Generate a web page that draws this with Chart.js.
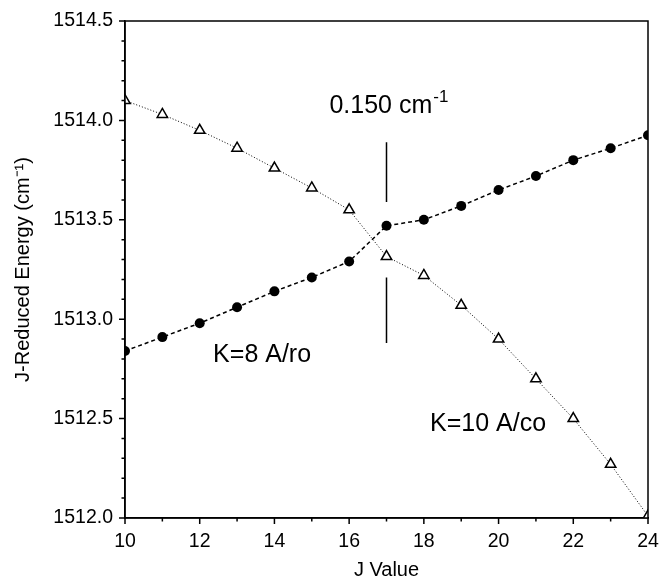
<!DOCTYPE html>
<html>
<head>
<meta charset="utf-8">
<script src="https://cdn.jsdelivr.net/npm/chart.js@4/dist/chart.umd.min.js"></script>
<style>
  html, body { margin: 0; padding: 0; background: #fff; }
  #wrap { width: 659px; height: 577px; }
</style>
</head>
<body>
<div id="wrap"><canvas id="grafico"></canvas></div>
<script>
// valores
const valoresJ = [10, 11, 12, 13, 14, 15, 16, 17, 18, 19, 20, 21, 22, 23, 24];
const energiaK8 = [1512.84, 1512.91, 1512.98, 1513.06, 1513.14, 1513.21, 1513.29, 1513.47,
                   1513.50, 1513.57, 1513.65, 1513.72, 1513.80, 1513.86, 1513.925];
const energiaK10 = [1514.10, 1514.03, 1513.95, 1513.86, 1513.76, 1513.66, 1513.55, 1513.315,
                    1513.22, 1513.07, 1512.90, 1512.70, 1512.50, 1512.27, 1512.01];

// anotações (J, energia)
const rotulos = [
    { texto: "K=8 A/ro", j: 13.67, e: 1512.82 },
    { texto: "K=10 A/co", j: 19.72, e: 1512.47 }
];
const marcaSeparacao = { j: 17, acima: [1513.89, 1513.59], abaixo: [1513.21, 1512.88] };
const textoSeparacao = { texto: "0.150 cm", sup: "-1", j: 17.05, e: 1514.07 };

const fonte = "'Liberation Sans', Arial, Helvetica, sans-serif";

// desenha moldura, marcas dos eixos e anotações usando as escalas do gráfico
const pluginAnotacoes = {
    id: "anotacoes",
    afterDatasetsDraw(chart) {
        const { ctx, chartArea, scales } = chart;
        const x = scales.x, y = scales.y;
        ctx.save();
        ctx.strokeStyle = "#000";
        ctx.lineWidth = 1.5;
        ctx.strokeRect(chartArea.left, chartArea.top, chartArea.right - chartArea.left, chartArea.bottom - chartArea.top);

        // marcas maiores e menores
        ctx.beginPath();
        for (let j = x.min; j <= x.max; j++) {
            const px = x.getPixelForValue(j);
            const len = j % 2 === 0 ? 6 : 3.5;
            ctx.moveTo(px, chartArea.bottom);
            ctx.lineTo(px, chartArea.bottom + len);
        }
        for (let k = 0; k <= 25; k++) {
            const v = y.min + k * 0.1;
            const py = y.getPixelForValue(v);
            const len = k % 5 === 0 ? 6 : 3.5;
            ctx.moveTo(chartArea.left, py);
            ctx.lineTo(chartArea.left - len, py);
        }
        ctx.stroke();

        const xm = x.getPixelForValue(marcaSeparacao.j);
        ctx.beginPath();
        ctx.moveTo(xm, y.getPixelForValue(marcaSeparacao.acima[0]));
        ctx.lineTo(xm, y.getPixelForValue(marcaSeparacao.acima[1]));
        ctx.moveTo(xm, y.getPixelForValue(marcaSeparacao.abaixo[0]));
        ctx.lineTo(xm, y.getPixelForValue(marcaSeparacao.abaixo[1]));
        ctx.stroke();

        ctx.fillStyle = "#000";
        ctx.textBaseline = "middle";
        ctx.textAlign = "center";
        ctx.font = "25px " + fonte;
        rotulos.forEach(r => {
            ctx.fillText(r.texto, x.getPixelForValue(r.j), y.getPixelForValue(r.e));
        });

        // texto com expoente
        ctx.font = "25px " + fonte;
        const w1 = ctx.measureText(textoSeparacao.texto).width;
        ctx.font = "17px " + fonte;
        const w2 = ctx.measureText(textoSeparacao.sup).width;
        const cx = x.getPixelForValue(textoSeparacao.j);
        const cy = y.getPixelForValue(textoSeparacao.e);
        const x0 = cx - (w1 + w2) / 2;
        ctx.textAlign = "left";
        ctx.font = "25px " + fonte;
        ctx.fillText(textoSeparacao.texto, x0, cy);
        ctx.font = "17px " + fonte;
        ctx.fillText(textoSeparacao.sup, x0 + w1 + 1, cy - 9);
        ctx.restore();
    }
};

const ctx = document.getElementById("grafico").getContext("2d");
new Chart(ctx, {
    type: "line",
    data: {
        datasets: [
            {
                label: "K=8 A/ro",
                data: valoresJ.map((j, i) => ({ x: j, y: energiaK8[i] })),
                borderColor: "#000",
                backgroundColor: "#000",
                borderWidth: 1.5,
                borderDash: [4, 3],
                pointStyle: "circle",
                pointRadius: 5,
                pointBorderWidth: 0,
                tension: 0
            },
            {
                label: "K=10 A/co",
                data: valoresJ.map((j, i) => ({ x: j, y: energiaK10[i] })),
                borderColor: "#000",
                backgroundColor: "#fff",
                borderWidth: 1,
                borderDash: [1, 2],
                pointStyle: "triangle",
                pointRadius: 6,
                pointBorderWidth: 1.5,
                pointBorderColor: "#000",
                pointBackgroundColor: "#fff",
                tension: 0
            }
        ]
    },
    options: {
        responsive: true,
        maintainAspectRatio: false,
        animation: false,
        layout: { padding: { top: 21, right: 11, left: 0, bottom: 0 } },
        plugins: {
            legend: { display: false },
            tooltip: { enabled: false }
        },
        scales: {
            x: {
                type: "linear",
                min: 10,
                max: 24,
                afterFit: scale => {
                    scale.height = 59;
                    scale.paddingLeft = 0;
                    scale.paddingRight = 0;
                },
                ticks: {
                    stepSize: 2,
                    autoSkip: false,
                    maxRotation: 0,
                    padding: 12,
                    color: "#000",
                    font: { family: fonte, size: 19.5 }
                },
                grid: { drawOnChartArea: false, drawTicks: false },
                border: { display: true, color: "#000", width: 1.5 },
                title: {
                    display: true,
                    text: "J Value",
                    color: "#000",
                    font: { family: fonte, size: 20, lineHeight: 0.7 },
                    padding: { top: 0, bottom: 0 }
                }
            },
            y: {
                type: "linear",
                min: 1512.0,
                max: 1514.5,
                afterFit: scale => {
                    scale.width = 125;
                    scale.paddingTop = 0;
                    scale.paddingBottom = 0;
                },
                ticks: {
                    stepSize: 0.5,
                    padding: 12,
                    color: "#000",
                    font: { family: fonte, size: 19.5 },
                    callback: v => v.toFixed(1)
                },
                grid: { drawOnChartArea: false, drawTicks: false },
                border: { display: true, color: "#000", width: 1.5 },
                title: {
                    display: true,
                    text: "J-Reduced Energy (cm\u207B\u00B9)",
                    color: "#000",
                    font: { family: fonte, size: 20, lineHeight: 1.2 },
                    padding: { top: 11, bottom: 0 }
                }
            }
        }
    },
    plugins: [pluginAnotacoes]
});
</script>
</body>
</html>
